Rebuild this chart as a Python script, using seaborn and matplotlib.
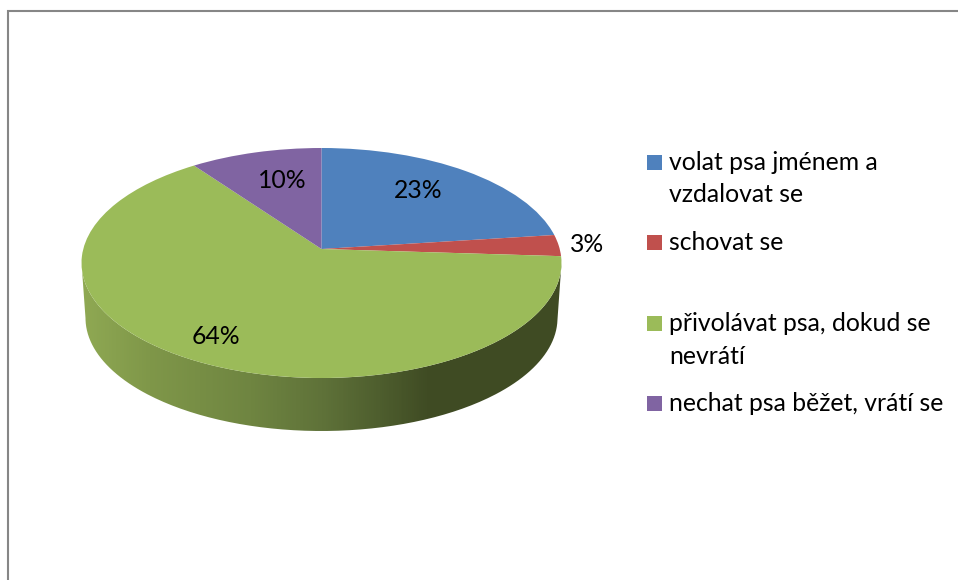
import numpy as np
import matplotlib
matplotlib.use('Agg')
import matplotlib.pyplot as plt
import seaborn as sns
from matplotlib.colors import LinearSegmentedColormap
from matplotlib.patches import PathPatch, Rectangle
from matplotlib.path import Path
from matplotlib.transforms import Transform

categories = ['volat psa jménem a\nvzdalovat se', 'schovat se',
              'přivolávat psa, dokud se\nnevrátí', 'nechat psa běžet, vrátí se']
values = [23, 3, 64, 10]
colors = ['#4F81BD', '#C0504D', '#9BBB59', '#8064A2']

sns.set_style('white')
plt.rcParams['font.family'] = ['Lato', 'DejaVu Sans']
FONT = 17.8

# pie geometry in image pixels
CX, CY = 321.5, 263
RX, RY = 240, 115
APEX = 14
K = APEX / (RY * 2) * 2


class Tilt(Transform):
    # unit circle -> tilted disc, centre of the pie moves up like in the excel 3d pie
    input_dims = 2
    output_dims = 2
    has_inverse = False

    def transform_non_affine(self, xy):
        xy = np.asarray(xy, dtype=float)
        d = 1 + K * xy[:, 1]
        x = CX + RX / 1.0075 * xy[:, 0] / d
        y = CY - (RY * xy[:, 1] + APEX) / d
        return np.column_stack([x, y])


fig = plt.figure(figsize=(9.58, 5.8), dpi=100)
ax = fig.add_axes([0, 0, 1, 1])

wedges, texts, autotexts = ax.pie(values, colors=colors, startangle=90, counterclock=False,
                                  autopct='%d%%', wedgeprops={'linewidth': 0})
tilt = Tilt()
for w in wedges:
    w.set_transform(tilt + ax.transData)
    w.set_zorder(3)

ax.set_aspect('auto')
ax.set_xlim(0, 958)
ax.set_ylim(580, 0)

# percent labels
label_pos = [(418, 191), (587, 245), (216, 337), (282, 181)]
for t, pos in zip(autotexts, label_pos):
    t.set_position(pos)
    t.set_fontsize(FONT)
    t.set_color('black')
    t.set_ha('center')
    t.set_va('center')
    t.set_zorder(5)

# side wall of the green slice
theta = np.linspace(np.pi, 0, 200)
top = np.column_stack([CX + RX * np.cos(theta), CY + RY * np.sin(theta)])
bottom = np.column_stack([CX + 236 * np.cos(theta), 318 + 113 * np.sin(theta)])[::-1]
wall = Path(np.vstack([top, bottom, top[:1]]))
clip = PathPatch(wall, transform=ax.transData, facecolor='none', edgecolor='none')
ax.add_patch(clip)
shade = LinearSegmentedColormap.from_list('wall', [
    (0.0, '#8FA953'), (0.14, '#7F9749'), (0.35, '#6F8541'), (0.50, '#5F7239'),
    (0.62, '#4E5E2E'), (0.72, '#404C24'), (1.0, '#3F4B23')])
img = ax.imshow(np.linspace(0, 1, 480)[None, :], cmap=shade, aspect='auto',
                extent=(82, 562, 440, 260), zorder=2)
img.set_clip_path(clip)
ax.set_xlim(0, 958)
ax.set_ylim(580, 0)

# legend, every entry is 80 px below the previous one
legend_y = [170, 250, 331, 411]
for name, col, y in zip(categories, colors, legend_y):
    ax.add_patch(Rectangle((647, y - 15), 15, 15, facecolor=col, edgecolor='none'))
    for i, line in enumerate(name.split('\n')):
        ax.text(669, y + i * 32.5, line, fontsize=FONT, color='black', ha='left', va='baseline')

# chart area border, cut off by the screenshot on the right and bottom
ax.plot([8.5, 8.5, 958], [580, 10.5, 10.5], color='#868686', lw=1.5, solid_joinstyle='miter')

fig.savefig('out.png', dpi=100, facecolor='white')
